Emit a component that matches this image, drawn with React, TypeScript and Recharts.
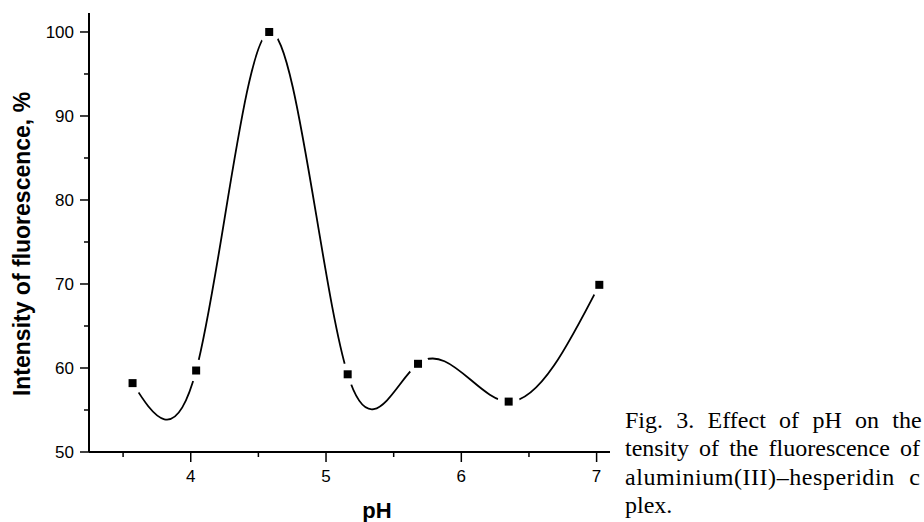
import { LineChart, Line, XAxis, YAxis, Label } from 'recharts';

// pH of the solution and relative fluorescence intensity (%)
const phValues = [3.57, 4.04, 4.58, 5.16, 5.68, 6.35, 7.02];
const intensity = [58.2, 59.7, 100, 59.25, 60.5, 56.0, 69.9];

const xTicks = [3.5, 4, 4.5, 5, 5.5, 6, 6.5, 7];
const yTicks = [50, 55, 60, 65, 70, 75, 80, 85, 90, 95, 100];

const captionLines = [
	'Fig. 3. Effect of pH on the',
	'tensity of the fluorescence of',
	'aluminium(III)\u2013hesperidin c',
	'plex.',
];

const data = phValues.map((ph, i) => ({ ph, value: intensity[i] }));

const AXIS_FONT = 'Arial, "Liberation Sans", sans-serif';

// natural cubic spline with x as the parameter (Origin style "Spline" connection),
// written as a d3-style curve factory so Recharts can use it as the line type
const splineX = (context: any) => {
	let xs: number[] = [];
	let ys: number[] = [];
	return {
		areaStart() {},
		areaEnd() {},
		lineStart() {
			xs = [];
			ys = [];
		},
		point(x: number, y: number) {
			xs.push(+x);
			ys.push(+y);
		},
		lineEnd() {
			const n = xs.length;
			if (!n) return;
			context.moveTo(xs[0], ys[0]);
			if (n === 1) return;
			if (n === 2) {
				context.lineTo(xs[1], ys[1]);
				return;
			}
			const h: number[] = [];
			const d: number[] = [];
			for (let i = 0; i < n - 1; i++) {
				h[i] = xs[i + 1] - xs[i];
				d[i] = (ys[i + 1] - ys[i]) / h[i];
			}
			const M = new Array(n).fill(0);
			const cp: number[] = [];
			const rp: number[] = [];
			for (let i = 1; i < n - 1; i++) {
				const a = h[i - 1];
				const b = 2 * (h[i - 1] + h[i]);
				const c = h[i];
				const r = 6 * (d[i] - d[i - 1]);
				const prevC = i > 1 ? cp[i - 1] : 0;
				const prevR = i > 1 ? rp[i - 1] : 0;
				const den = b - a * prevC;
				cp[i] = c / den;
				rp[i] = (r - a * prevR) / den;
			}
			for (let i = n - 2; i >= 1; i--) M[i] = rp[i] - cp[i] * M[i + 1];
			for (let i = 0; i < n - 1; i++) {
				const s0 = d[i] - (h[i] * (2 * M[i] + M[i + 1])) / 6;
				const s1 = d[i] + (h[i] * (M[i] + 2 * M[i + 1])) / 6;
				context.bezierCurveTo(
					xs[i] + h[i] / 3,
					ys[i] + (s0 * h[i]) / 3,
					xs[i + 1] - h[i] / 3,
					ys[i + 1] - (s1 * h[i]) / 3,
					xs[i + 1],
					ys[i + 1]
				);
			}
		},
	};
};

const XTick = (props: any) => {
	const { x, y, payload } = props;
	const major = Number.isInteger(payload.value);
	return (
		<g>
			<line x1={x} y1={y} x2={x} y2={y + (major ? 10 : 5)} stroke="#000" strokeWidth={1.5} />
			{major && (
				<text x={x} y={y + 30} textAnchor="middle" fontSize={17} fontFamily={AXIS_FONT} fill="#000">
					{payload.value}
				</text>
			)}
		</g>
	);
};

const YTick = (props: any) => {
	const { x, y, payload } = props;
	const major = payload.value % 10 === 0;
	return (
		<g>
			<line x1={x} y1={y} x2={x - (major ? 9 : 5)} y2={y} stroke="#000" strokeWidth={1.5} />
			{major && (
				<text x={x - 15} y={y + 6} textAnchor="end" fontSize={17} fontFamily={AXIS_FONT} fill="#000">
					{payload.value}
				</text>
			)}
		</g>
	);
};

// square marker with a white halo, so the curve stops short of it
const SquareDot = (props: any) => {
	const { cx, cy } = props;
	if (cx == null || cy == null) return null;
	return (
		<g>
			<circle cx={cx} cy={cy} r={11} fill="#fff" />
			<rect x={cx - 4} y={cy - 4} width={8} height={8} fill="#000" />
		</g>
	);
};

const captionStyles = [
	{ wordSpacing: 7.3 },
	{ wordSpacing: 4.1 },
	{ wordSpacing: 8, letterSpacing: 0.55 },
	{},
];

export default function App() {
	return (
		<div style={{ position: 'absolute', left: 0, top: 0, width: 924, height: 522, overflow: 'hidden', background: '#fff' }}>
			<LineChart width={924} height={522} data={data} margin={{ top: 13, right: 314, bottom: 0, left: 0 }}>
				<XAxis
					dataKey="ph"
					type="number"
					domain={[3.248, 7.099]}
					allowDataOverflow
					ticks={xTicks}
					interval={0}
					height={70}
					tickSize={0}
					tickMargin={0}
					tickLine={false}
					axisLine={{ stroke: '#000', strokeWidth: 2 }}
					tick={<XTick />}
				>
					<Label
						content={() => (
							<text x={377} y={518} textAnchor="middle" fontSize={22} fontWeight="bold" fontFamily={AXIS_FONT} fill="#000">
								pH
							</text>
						)}
					/>
				</XAxis>
				<YAxis
					type="number"
					domain={[50, 102.26]}
					allowDataOverflow
					ticks={yTicks}
					interval={0}
					width={89}
					tickSize={0}
					tickMargin={0}
					tickLine={false}
					axisLine={{ stroke: '#000', strokeWidth: 2 }}
					tick={<YTick />}
				>
					<Label
						content={() => (
							<text
								x={22}
								y={244}
								transform="rotate(-90, 22, 244)"
								textAnchor="middle"
								dominantBaseline="central"
								fontSize={23}
								fontWeight="bold"
								fontFamily={AXIS_FONT}
								fill="#000"
							>
								Intensity of fluorescence, %
							</text>
						)}
					/>
				</YAxis>
				<Line
					type={splineX as any}
					dataKey="value"
					stroke="#000"
					strokeWidth={1.8}
					dot={<SquareDot />}
					activeDot={false}
					isAnimationActive={false}
				/>
			</LineChart>

			{/* figure caption from the paper, cut off at the right edge */}
			<div
				style={{
					position: 'absolute',
					left: 625,
					top: 406,
					fontFamily: '"Times New Roman", "Liberation Serif", serif',
					fontSize: 24,
					lineHeight: '28.3px',
					color: '#000',
					whiteSpace: 'nowrap',
				}}
			>
				{captionLines.map((line, i) => (
					<div key={i} style={captionStyles[i]}>
						{line}
					</div>
				))}
			</div>
		</div>
	);
}
